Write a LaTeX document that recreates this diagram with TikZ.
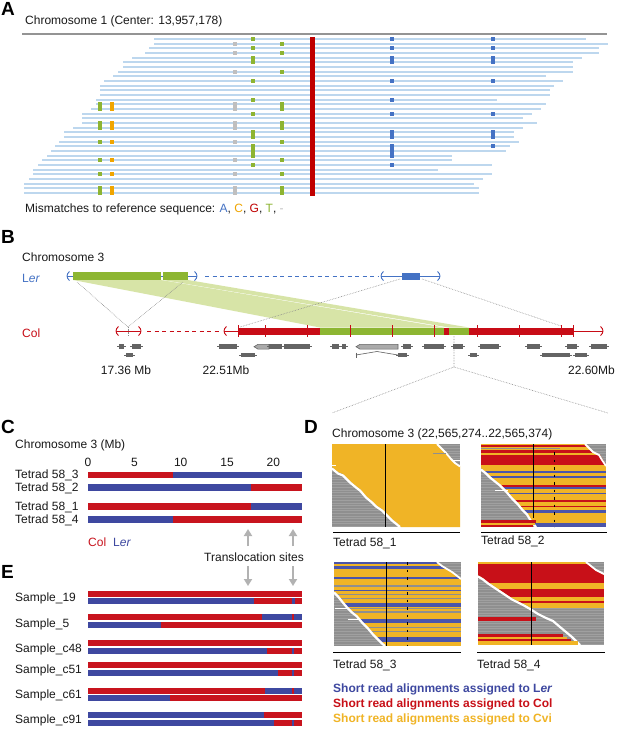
\documentclass[tikz,border=0pt]{standalone}
\usepackage{fontspec}
\setmainfont{Liberation Sans}
\usetikzlibrary{arrows.meta}
\definecolor{readblue}{RGB}{189,215,238}
\definecolor{mA}{RGB}{68,114,196}
\definecolor{mC}{RGB}{240,165,0}
\definecolor{mG}{RGB}{192,0,0}
\definecolor{mT}{RGB}{141,180,50}
\definecolor{mGap}{RGB}{191,191,191}
\definecolor{bgreen}{RGB}{141,182,50}
\definecolor{bglight}{RGB}{211,226,158}
\definecolor{bred}{RGB}{200,12,22}
\definecolor{bblue}{RGB}{68,114,196}
\definecolor{genec}{RGB}{100,100,100}
\definecolor{genel}{RGB}{170,170,170}
\definecolor{cred}{RGB}{200,20,30}
\definecolor{cblue}{RGB}{62,72,160}
\definecolor{dyel}{RGB}{240,180,38}
\definecolor{dred}{RGB}{200,16,24}
\definecolor{dblue}{RGB}{75,85,170}
\definecolor{dgray}{RGB}{143,143,143}
\definecolor{dline}{RGB}{160,160,160}
\definecolor{txtc}{RGB}{25,25,25}
\newcommand{\mk}[4]{\fill[#4] (#1-2.4,{39+(#2-1)*4.667-2.1}) rectangle (#1+2.4,{39+(#3-1)*4.667+2.1});}
\newcommand{\mylb}[3]{\draw[#3,line width=0.9pt] (#1+2.5,#2-4.5) .. controls (#1-0.8,#2-2) and (#1-0.8,#2+2) .. (#1+2.5,#2+4.5);}
\newcommand{\myrb}[3]{\draw[#3,line width=0.9pt] (#1-2.5,#2-4.5) .. controls (#1+0.8,#2-2) and (#1+0.8,#2+2) .. (#1-2.5,#2+4.5);}
\newcommand{\gbox}[3]{\draw[genec,line width=0.6pt] (#1-2,#3) -- (#2+2,#3); \fill[genec] (#1,#3-2.4) rectangle (#2,#3+2.4);}
\newcommand{\garr}[3]{\draw[genec,line width=0.6pt,fill=genel] (#1,#3) -- (#1+4,#3-2.4) -- (#2,#3-2.4) -- (#2,#3+2.4) -- (#1+4,#3+2.4) -- cycle;}
\newcommand{\eseg}[4]{\fill[#4] (#1,#3) rectangle (#2,{#3+6});}
\begin{document}
\begin{tikzpicture}[x=1pt,y=-1pt,
  txt/.style={font=\fontsize{12}{14}\selectfont, text=txtc, inner sep=0pt, anchor=base west},
  ptxt/.style={font=\fontsize{19}{20}\selectfont\bfseries, text=black, inner sep=0pt, anchor=base west},
  legtxt/.style={font=\fontsize{12}{14}\selectfont\bfseries, inner sep=0pt, anchor=base west},
  readln/.style={draw=readblue, line width=2.1pt},
  dotl/.style={draw=black!45, densely dotted, line width=0.6pt},
  tarr/.style={draw=black!30, line width=2.2pt, -{Triangle[width=8pt,length=7pt]}},
  gbar/.style={draw=black, line width=0.9pt}]
\useasboundingbox (0,0) rectangle (617,729);
\fill[white] (0,0) rectangle (617,729);

% ================= Panel A =================
\node[ptxt] (labA) at (1,15.5) {A};
\node[txt] (titA) at (25,24.5) {Chromosome 1 (Center: 13,957,178)};
\draw[black!42, line width=1.2pt] (22,34) -- (607,34);
\foreach \xa/\xb [count=\i from 0] in {154/586,154/608,149/599,145/599,132/582,123/573,123/573,118/573,113/546,104/563,100/554,100/550,100/550,96/497,96/546,91/541,82/532,82/523,82/537,73/523,64/514,64/514,59/519,55/510,51/506,47/452,42/452,38/492,33/438,33/492,29/483,24/474,24/479,24/479}
  {\draw[readln] (\xa,{39+\i*4.667}) -- (\xb,{39+\i*4.667});}
\foreach \a/\b in {1/1,3/3,5/6,10/10,14/14,17/17,21/22,24/26,28/28}
  {\mk{253}{\a}{\b}{mT}\mk{392}{\a}{\b}{mA}}
\foreach \a/\b in {1/1,3/3,5/6,10/10,17/17,21/22,24/24}
  {\mk{493}{\a}{\b}{mA}}
\foreach \a/\b in {2/2,4/4,8/8,15/16,19/20,23/23,27/27,30/30,33/34}
  {\mk{235}{\a}{\b}{mGap}\mk{282}{\a}{\b}{mT}}
\foreach \a/\b in {15/16,19/20,23/23,27/27,30/30,33/34}
  {\mk{100}{\a}{\b}{mT}\mk{112}{\a}{\b}{mC}}
\fill[mG] (310,37) rectangle (314.7,196);
\node[txt] (misA) at (25,212) {Mismatches to reference sequence: \textcolor{mA}{A}, \textcolor{mC}{C}, \textcolor{mG}{G}, \textcolor{mT}{T}, \textcolor{mGap}{-}};

% ================= Panel B =================
\node[ptxt] (labB) at (1,243) {B};
\node[txt] (chrB) at (22,261) {Chromosome 3};
\node[txt, text=bblue] (lerB) at (22,282) {L\textit{er}};
\node[txt, text=bred] (colB) at (22,337) {Col};
% translucent bands
\fill[bglight, opacity=0.9] (73,280) -- (161,280) -- (444,327.5) -- (320,327.5) -- cycle;
\fill[bglight, opacity=0.9] (163,280) -- (188,280) -- (469,327.5) -- (449,327.5) -- cycle;
% dotted guides
\draw[dotl] (77,282) -- (128,327);
\draw[dotl] (183,282) -- (128,327);
\draw[dotl] (128,327) -- (128,336);
\draw[dotl] (400,279) -- (240,327);
\draw[dotl] (422,279) -- (561,326);
\draw[dotl] (454,336) -- (454,367) -- (332,413);
\draw[dotl] (454,367) -- (608,413);
% Ler line
\draw[bblue, line width=0.9pt] (67,276) -- (197,276);
\mylb{67}{276}{bblue}\myrb{197}{276}{bblue}
\fill[bgreen] (73,272) rectangle (161,280);
\fill[bgreen] (163,272) rectangle (188,280);
\draw[bblue, line width=0.9pt, dash pattern=on 4pt off 3.5pt] (205,276) -- (378,276);
\draw[bblue, line width=0.9pt] (381,276) -- (440,276);
\mylb{381}{276}{bblue}\myrb{440}{276}{bblue}
\fill[bblue] (402,272.5) rectangle (420,279.5);
% Col line
\draw[bred, line width=0.9pt] (116,331) -- (141,331);
\mylb{116}{331}{bred}\myrb{141}{331}{bred}
\draw[bred, line width=0.9pt, dash pattern=on 4pt off 3.5pt] (147,331) -- (220,331);
\draw[bred, line width=0.9pt] (224,331) -- (603,331);
\mylb{224}{331}{bred}\myrb{603}{331}{bred}
\fill[bred] (238,327.5) rectangle (320,334.5);
\fill[bgreen] (320,327.5) rectangle (444,334.5);
\fill[bred] (444,327.5) rectangle (449,334.5);
\fill[bgreen] (449,327.5) rectangle (469,334.5);
\fill[bred] (469,327.5) rectangle (573,334.5);
\foreach \t in {238,265,307,350,392,434,477,519,561,573}
  {\draw[bred, line width=0.8pt] (\t,325) -- (\t,337);}
% gene models
\gbox{119}{124}{346.7}\gbox{132}{141}{346.7}\gbox{126}{133}{355}
\gbox{219}{237}{346.7}\garr{254}{269}{346.7}\gbox{269}{282}{346.7}\gbox{284}{310}{346.7}
\gbox{241}{255}{355}
\gbox{332}{339}{346.7}\gbox{342}{346}{346.7}\garr{356}{398}{346.7}\gbox{403}{411}{346.7}
\draw[genec, line width=0.6pt] (356,352.5) -- (356,357.5);
\draw[genec, line width=0.6pt] (356,355) -- (377,351.5) -- (398,355);
\gbox{398}{407}{355}
\gbox{424}{444}{346.7}\gbox{453}{463}{346.7}\gbox{480}{499}{346.7}
\gbox{470}{477}{355}
\gbox{527}{540}{346.7}\gbox{567}{577}{346.7}\gbox{591}{607}{346.7}
\gbox{542}{570}{355}\gbox{575}{587}{355}
\node[txt, anchor=base] (mb1) at (126,374) {17.36 Mb};
\node[txt, anchor=base] (mb2) at (226,374) {22.51Mb};
\node[txt, anchor=base east] (mb3) at (615,374) {22.60Mb};

% ================= Panel C =================
\node[ptxt] (labC) at (1,433) {C};
\node[txt] (chrC) at (15,448) {Chromosome 3 (Mb)};
\foreach \v/\xx in {0/88,5/134.4,10/180.7,15/227,20/273.4}
  {\node[txt, anchor=base] at (\xx,466) {\v};}
\fill[cred] (88,471.7) rectangle (173,478.3); \fill[cblue] (173,471.7) rectangle (302,478.3);
\fill[cblue] (88,484) rectangle (251,490.7); \fill[cred] (251,484) rectangle (302,490.7);
\fill[cred] (88,503.3) rectangle (251,510); \fill[cblue] (251,503.3) rectangle (302,510);
\fill[cred] (173,516) rectangle (302,522.7); \fill[cblue] (88,516) rectangle (173,522.7);
\node[txt] (t3) at (15,478.5) {Tetrad 58\_3};
\node[txt] (t2) at (15,491) {Tetrad 58\_2};
\node[txt] (t1) at (15,510.5) {Tetrad 58\_1};
\node[txt] (t4) at (15,523) {Tetrad 58\_4};
\node[txt, text=cred] (colC) at (88,546) {Col};
\node[txt, text=cblue] (lerC) at (113,546) {L\textit{er}};
\node[txt, anchor=base] (trans) at (254,561) {Translocation sites};
\coordinate (u1a) at (248,546); \coordinate (u1b) at (248,529);
\coordinate (u2a) at (293,546); \coordinate (u2b) at (293,529);
\coordinate (d1a) at (248,566); \coordinate (d1b) at (248,586);
\coordinate (d2a) at (293,566); \coordinate (d2b) at (293,586);
\draw[tarr] (u1a) -- (u1b); \draw[tarr] (u2a) -- (u2b);
\draw[tarr] (d1a) -- (d1b); \draw[tarr] (d2a) -- (d2b);

% ================= Panel E =================
\node[ptxt] (labE) at (1,578) {E};
\node[txt] (s19) at (15,601) {Sample\_19};
\node[txt] (s5) at (15,627) {Sample\_5};
\node[txt] (s48) at (15,652) {Sample\_c48};
\node[txt] (s51) at (15,673) {Sample\_c51};
\node[txt] (s61) at (15,698) {Sample\_c61};
\node[txt] (s91) at (15,723) {Sample\_c91};
% Sample_19
\eseg{88}{302}{590.5}{cred}
\eseg{88}{254}{598}{cblue}\eseg{254}{302}{598}{cred}\eseg{292}{294.5}{598}{cblue}
% Sample_5
\eseg{88}{262}{614}{cred}\eseg{262}{302}{614}{cblue}\eseg{292}{293.5}{614}{cred}
\eseg{88}{161}{621.5}{cblue}\eseg{161}{302}{621.5}{cred}
% c48
\eseg{88}{302}{640}{cred}
\eseg{88}{267}{647.7}{cblue}\eseg{267}{302}{647.7}{cred}\eseg{292}{294}{647.7}{cblue}
% c51
\eseg{88}{302}{662.3}{cred}
\eseg{88}{278}{670}{cblue}\eseg{278}{302}{670}{cred}\eseg{292}{294}{670}{cblue}
% c61
\eseg{88}{265}{687.7}{cred}\eseg{265}{302}{687.7}{cblue}\eseg{292}{294}{687.7}{cred}
\eseg{88}{170}{695.3}{cblue}\eseg{170}{302}{695.3}{cred}
% c91
\eseg{88}{264}{712.3}{cblue}\eseg{264}{302}{712.3}{cred}
\eseg{88}{274}{720}{cblue}\eseg{274}{302}{720}{cred}\eseg{292}{294}{720}{cblue}

% ================= Panel D =================
\node[ptxt] (labD) at (304,433) {D};
\node[txt] (chrD) at (332,437) {Chromosome 3 (22,565,274..22,565,374)};
% ---- box 1
\fill[dgray] (332,444) rectangle (460,527);
\foreach \yy in {445.5,448.1,...,527} {\draw[dline, line width=0.3pt] (332,\yy) -- (460,\yy);}
\fill[dyel] (332,444) -- (438,444) -- (443,449) -- (447,453) -- (452,459) -- (456,463) -- (460,466) -- (460,527) -- (401,527) -- (397,523) -- (392,519) -- (388,515) -- (382,509) -- (376,505) -- (372,501) -- (366,496) -- (360,489) -- (356,486) -- (350,481) -- (343,474) -- (338,472) -- (332,467) -- cycle;
\draw[white, line width=2.2pt] (332,468.5) -- (338,473.5) -- (343,475.5) -- (350,482.5) -- (356,487.5) -- (360,490.5) -- (366,497.5) -- (372,502.5) -- (376,506.5) -- (382,510.5) -- (388,516.5) -- (392,520.5) -- (397,524.5) -- (400,527);
\draw[white, line width=1.8pt] (437,444) -- (442,449) -- (446,453) -- (451,459) -- (455,463) -- (460,466.5);
\draw[dgray, line width=1pt] (433,453) -- (446,453);
\draw[white, line width=1pt] (453,460) -- (460,460);
\draw[white, line width=1pt] (332,465.5) -- (336,465.5);
\draw[black, line width=1pt] (385,444) -- (385,527);
\draw[gbar] (333,532) -- (460,532);
\node[txt] (d1) at (333,546) {Tetrad 58\_1};
% ---- box 2
\fill[dgray] (481,444) rectangle (606,527);
\foreach \yy in {445.5,448.1,...,527} {\draw[dline, line width=0.3pt] (481,\yy) -- (606,\yy);}
\begin{scope}
\clip (481,444) -- (586,444) -- (590,448) -- (594,452) -- (600,455) -- (603,460) -- (606,465) -- (606,527) -- (537,527) -- (533,522) -- (530,518) -- (527,513) -- (522,508) -- (518,503) -- (512,497) -- (506,490) -- (500,484) -- (495,480) -- (490,476) -- (486,472) -- (481,468) -- cycle;
\fill[dyel] (481,444) rectangle (606,527);
\foreach \a/\b/\c in {444.7/447.3/dred,449.7/452.5/dred,454.5/456.5/dred,457.3/465.3/dred,470.7/473.3/dblue,476.2/477.8/dblue,485.3/487.3/dred,487.3/489.3/dblue,492.7/494/dblue,500/502/dred,506/507.3/dred,510/513.3/dblue,522.8/527/dblue}
  {\fill[\c] (481,\a) rectangle (606,\b);}
\fill[dgray] (481,447.6) rectangle (560,449.2);
\end{scope}
\draw[white, line width=2.2pt] (481,469.5) -- (486,473.5) -- (490,477.5) -- (495,481.5) -- (500,485.5) -- (506,491.5) -- (512,498.5) -- (518,504.5) -- (522,509.5) -- (527,514.5) -- (530,519.5) -- (533,523.5) -- (536,527);
\draw[white, line width=1.8pt] (585,444) -- (589,448) -- (593,452) -- (599,455) -- (602,460) -- (606,466);
\fill[dred] (481,520) rectangle (536,522.7);
\fill[dyel] (481,522.7) rectangle (535,524.7);
\fill[dred] (481,524.7) rectangle (533,527);
\draw[white, line width=1pt] (495,490) -- (508,490);
\draw[black, line width=1pt] (533,444) -- (533,518);
\draw[black, line width=1pt, dash pattern=on 2.5pt off 5pt] (554,452) -- (554,527);
\draw[gbar] (481,532) -- (607,532);
\node[txt] (d2) at (481,544) {Tetrad 58\_2};
% ---- box 3
\fill[dgray] (334,562) rectangle (461,646);
\foreach \yy in {563.5,566.1,...,646} {\draw[dline, line width=0.3pt] (334,\yy) -- (461,\yy);}
\begin{scope}
\clip (334,562) -- (438,562) -- (443,566) -- (448,569) -- (453,572) -- (457,575) -- (461,578) -- (461,646) -- (386,646) -- (382,642) -- (378,638) -- (373,633) -- (368,627) -- (362,621) -- (357,615) -- (352,611) -- (347,606) -- (342,600) -- (338,595) -- (334,591) -- cycle;
\fill[dyel] (334,562) rectangle (461,646);
\foreach \a/\b/\c in {562/564/dblue,566/568.7/dblue,577.3/579.3/dblue,585.3/586.7/dgray,590/591.3/dblue,594/595.3/dgray,598/599.3/dgray,603.3/606.7/dblue,608/609.3/dgray,611.3/612.7/dgray,619.3/622.7/dblue,626.7/628/dgray,630.7/632/dgray,636.7/642/dblue}
  {\fill[\c] (334,\a) rectangle (461,\b);}
\end{scope}
\draw[white, line width=2.2pt] (334,592.5) -- (338,596.5) -- (342,601.5) -- (347,607.5) -- (352,612.5) -- (357,616.5) -- (362,622.5) -- (368,628.5) -- (373,634.5) -- (378,639.5) -- (382,643.5) -- (385,646);
\draw[white, line width=1.8pt] (437,562) -- (442,566) -- (447,569) -- (452,572) -- (456,575) -- (461,579);
\draw[white, line width=1pt] (335,608.7) -- (348,608.7);
\draw[white, line width=1pt] (348,619) -- (360,619);
\draw[black, line width=1pt] (386,562) -- (386,646);
\draw[black, line width=1pt, dash pattern=on 2.5pt off 5pt] (407,562) -- (407,646);
\draw[gbar] (333,652) -- (461,652);
\node[txt] (d3) at (333,668) {Tetrad 58\_3};
% ---- box 4
\fill[dgray] (478,562) rectangle (604,645);
\foreach \yy in {563.5,566.1,...,645} {\draw[dline, line width=0.3pt] (478,\yy) -- (604,\yy);}
\begin{scope}
\clip (478,562) -- (585,562) -- (590,566) -- (595,570) -- (604,575) -- (604,608) -- (531,608) -- (524,604) -- (518,601) -- (512,598) -- (506,594) -- (500,590) -- (494,586) -- (488,582) -- (483,578) -- (478,575) -- cycle;
\fill[dyel] (478,562) rectangle (604,608);
\foreach \a/\b/\c in {564/583/dred,588.7/597.3/dred,600.7/603/dred}
  {\fill[\c] (478,\a) rectangle (604,\b);}
\end{scope}
\draw[white, line width=2.2pt] (478,576.5) -- (483,579.5) -- (488,583.5) -- (494,587.5) -- (500,591.5) -- (506,595.5) -- (512,599.5) -- (518,602.5) -- (524,605.5) -- (531,609.5) -- (538,614) -- (546,618) -- (553,621) -- (560,627) -- (566,632) -- (572,637) -- (577,642) -- (580,645);
\draw[white, line width=1.8pt] (586,562) -- (591,566) -- (596,570) -- (604,574);
\fill[dred] (478,617.3) rectangle (536,621.3);
\fill[dred] (478,634) rectangle (563,636.7);
\fill[dyel] (478,636.7) rectangle (567,638.7);
\fill[dred] (478,638.7) rectangle (571,641.3);
\fill[dyel] (478,641.3) rectangle (578,645);
\draw[black, line width=1pt] (531,562) -- (531,645);
\draw[gbar] (477,652) -- (605,652);
\node[txt] (d4) at (477,668) {Tetrad 58\_4};
% legend
\node[legtxt, text=cblue] (lg1) at (333,692) {Short read alignments assigned to L\textit{er}};
\node[legtxt, text=dred] (lg2) at (333,707) {Short read alignments assigned to Col};
\node[legtxt, text=dyel] (lg3) at (333,722) {Short read alignments assigned to Cvi};
\end{tikzpicture}
\end{document}
